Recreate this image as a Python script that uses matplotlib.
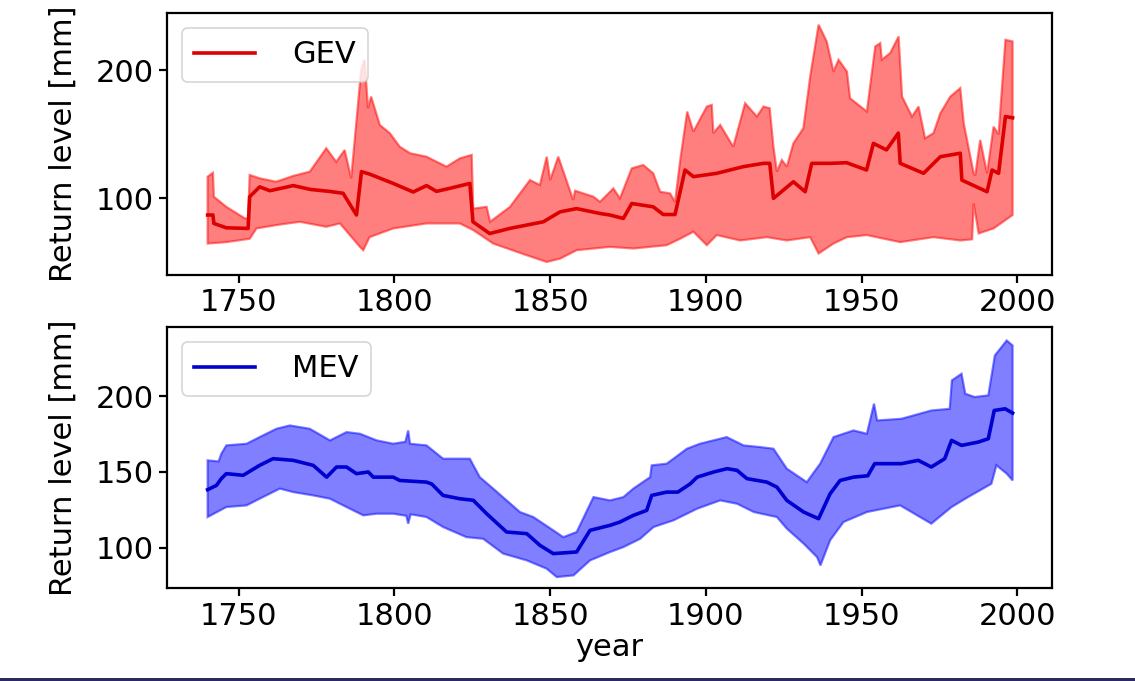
import matplotlib
matplotlib.use("Agg")
import matplotlib.pyplot as plt
import numpy as np
from matplotlib.patches import Rectangle

# ---------------- GEV (top panel) ----------------
gev_mid_years = [1740, 1741.7, 1742, 1746, 1753, 1753.5, 1756.7, 1760, 1767.5, 1773, 1779, 1783.5,
                 1787.8, 1789.4, 1792, 1799.6, 1806, 1810.3, 1813.5, 1818, 1824.2, 1825.2, 1830.6,
                 1837, 1847.8, 1853.2, 1858.5, 1866, 1869.2, 1873.5, 1876.2, 1883.1, 1886.3, 1890.1,
                 1893.3, 1896, 1903.5, 1912, 1918.5, 1920.5, 1921.7, 1928.1, 1931.9, 1934, 1940,
                 1945.2, 1951.6, 1953.8, 1958, 1961.8, 1962.4, 1969.9, 1975.3, 1981.7, 1982.2,
                 1990.3, 1991.9, 1994, 1996.2, 1998.5]
gev_mid = [87, 87, 80.4, 77, 76.5, 101.3, 109, 106, 110, 107, 105.5, 104,
           87, 120.9, 119, 111.7, 105, 110, 105.5, 108, 111.7, 81.7, 72.5,
           76.5, 81.7, 89.5, 92, 88.2, 87, 84.3, 96, 93.4, 87.4, 87.4,
           122.2, 117, 119.6, 124.8, 127.4, 127.4, 100, 113, 105.2, 127.4, 127.4,
           127.9, 122.2, 143, 137.9, 151, 127.4, 119.6, 132.6, 135.3, 114.3,
           105.2, 122.2, 119.6, 164, 163]

gev_up_years = [1740, 1741.7, 1742, 1746, 1752, 1753, 1753.5, 1756.7, 1762, 1767.5, 1772.8, 1778.1,
                1781.3, 1784, 1786.1, 1789.3, 1790.4, 1791.5, 1792.5, 1795.3, 1798.5, 1801.7,
                1805, 1810.3, 1816.7, 1821, 1824.8, 1825.3, 1829.6, 1830.7, 1837.1, 1843.5,
                1846.7, 1848.9, 1850, 1852.6, 1857.4, 1858, 1863.9, 1866, 1870.3, 1872.4,
                1876.2, 1879.9, 1883.1, 1885.3, 1888.5, 1890.1, 1891.7, 1894, 1896, 1900.3,
                1901.9, 1902.4, 1904.6, 1908.8, 1912.6, 1916.4, 1918.5, 1920.5, 1921.7, 1922.8,
                1924.4, 1926, 1928.1, 1931.3, 1933.5, 1936.2, 1938.8, 1941, 1942.6, 1945.3,
                1946.3, 1951.7, 1954.4, 1956, 1956.5, 1959.2, 1961.9, 1963, 1966.2, 1968.3,
                1970.4, 1973.1, 1975.3, 1978.5, 1981.7, 1982.8, 1986, 1986.5, 1988.1, 1990.3,
                1992.4, 1994, 1996.2, 1998.5]
gev_up = [117, 120, 101.3, 93.4, 84.3, 84.3, 118.3, 115.7, 113, 117.6, 120.9, 139.2,
          128.6, 137.8, 115.7, 200.5, 208.4, 170.5, 179.6, 157.4, 151, 140.4,
          135.3, 132.6, 124.8, 131.3, 134, 92, 93.4, 81.7, 93.4, 114.3,
          110.5, 132.6, 114.3, 132.6, 98.7, 106, 101.3, 97.3, 107.8, 100,
          123.5, 126.1, 119.6, 105.2, 103.9, 97.3, 128.7, 167.9, 152.2, 171.8,
          173.1, 151, 157.4, 140.4, 174.4, 164, 171.8, 170.5, 140.4, 120.9,
          130, 124.8, 143, 154.8, 195.3, 235.8, 222.7, 199.2, 208.4, 199.2,
          178.3, 167.9, 218.8, 221.4, 208.4, 213.7, 226.6, 179.6, 164, 171.8,
          147, 151, 166.6, 179.6, 186.2, 158.8, 119.6, 118, 145.7, 119.6,
          156.1, 150, 224, 222.7]

gev_lo_years = [1740, 1746, 1753.5, 1755.7, 1762, 1769.6, 1778.1, 1782.5, 1788.9, 1790, 1792,
                1799.6, 1810.3, 1821, 1825.3, 1831.7, 1842.4, 1848.9, 1853.2, 1858.5, 1869.2,
                1876.7, 1887.4, 1891.7, 1896, 1900.3, 1903.5, 1911, 1919.6, 1926, 1933.5,
                1936.2, 1941, 1945.3, 1951.7, 1962.4, 1973.1, 1981.7, 1985.5, 1986, 1987.6,
                1992.4, 1998.5]
gev_lo = [64.7, 65.8, 68.4, 76.5, 79.1, 81.7, 77.8, 80.4, 62.1, 59.5, 69.7,
          76.5, 80.4, 80.4, 75.2, 64.7, 55.6, 50.3, 52.9, 59.5, 62.1,
          60.8, 63.4, 68.4, 73.9, 63.4, 71.3, 67.1, 69.7, 67.1, 69.7,
          56.9, 64.7, 69.7, 71.3, 65.8, 69.7, 67.1, 68, 96, 72.6,
          76.5, 87]

# ---------------- MEV (bottom panel) ----------------
mev_mid_years = [1740, 1742.8, 1744.4, 1746, 1751.4, 1756.7, 1761, 1767.5, 1773.9, 1778.2, 1781.4,
                 1784.6, 1787.8, 1791.6, 1793.2, 1799.6, 1801.7, 1810.3, 1812, 1815.6, 1821,
                 1825.3, 1829.6, 1836, 1842.5, 1846.7, 1851, 1858.5, 1862.8, 1869.2, 1872.4,
                 1876.7, 1881, 1882.6, 1887.4, 1891, 1895, 1897.2, 1902.5, 1906.8, 1910, 1913.2,
                 1919.6, 1922.8, 1926, 1931.4, 1936.2, 1939.9, 1943.1, 1947.4, 1952, 1954.2,
                 1962.8, 1968.2, 1972.4, 1976.7, 1978.9, 1982.1, 1987.5, 1990.7, 1992.6, 1996.1,
                 1998.5]
mev_mid = [138.3, 141.1, 145.6, 148.9, 147.8, 154.4, 158.8, 157.7, 154.4, 146.6, 153.3,
           153.3, 148.9, 150, 146.6, 146.6, 144.4, 143.3, 142, 134.5, 132.3,
           131.3, 122.4, 110.3, 109.2, 101.5, 96, 97.1, 111.4, 114.7, 116.9,
           121.3, 124.6, 134.5, 136.7, 136.7, 142.2, 146.6, 150, 152.2, 151.1, 145.6,
           143.3, 140, 131.2, 123.5, 119.1, 135.6, 144.4, 146.6, 147.5, 155.5,
           155.5, 157.7, 153.3, 158.8, 170.9, 167.6, 169.8, 172, 190.7, 191.8,
           189]

mev_up_years = [1740, 1743.5, 1744.4, 1746, 1752.5, 1756.7, 1762.1, 1766.4, 1772.8, 1779.3, 1784.6,
                1788.9, 1794.3, 1799.6, 1803.5, 1804.4, 1805, 1810.3, 1815.6, 1824.2, 1827.4,
                1831.7, 1840.3, 1844.6, 1851, 1854.2, 1858.5, 1863.9, 1869.2, 1873.5, 1876.7,
                1882.1, 1882.6, 1887.4, 1889.6, 1893.9, 1898.1, 1906.7, 1912.1, 1917.4, 1921.7,
                1926, 1932.4, 1936.7, 1941, 1947.4, 1951.7, 1954, 1955, 1962.8, 1972.4, 1978.3,
                1979, 1982.1, 1983.3, 1986.3, 1990.7, 1992.8, 1996.6, 1998.5]
mev_up = [157.7, 157, 162.1, 167.6, 168.7, 173.1, 178.6, 180.8, 178.6, 170.9, 176.4,
          175.3, 170.9, 168.7, 170, 177.5, 168.7, 167.6, 158.8, 158.8, 146.6,
          139, 123.5, 120.2, 111.4, 106.9, 110.3, 133.4, 131.2, 133.4, 139,
          146.6, 154.4, 155.5, 158.8, 165.4, 168.7, 173.1, 167.6, 166.5, 165.4,
          152.2, 143.3, 155.5, 173.1, 177.5, 175.3, 195.2, 184.1, 185.2, 190.7, 191.8,
          210.6, 215, 201.8, 199.6, 200.7, 227.1, 237, 233.7]

mev_lo_years = [1740, 1746, 1752.5, 1756.7, 1763.2, 1767.5, 1773.9, 1779.3, 1784.6, 1790, 1794.3,
                1799.6, 1803.8, 1804.4, 1805.2, 1810.3, 1815.6, 1823.1, 1828.5, 1834.9, 1842.5,
                1848.9, 1852.1, 1857.5, 1862.8, 1869.2, 1873.5, 1878.9, 1883.2, 1889.6, 1897.2,
                1904.6, 1910, 1915.4, 1922.8, 1926, 1931.4, 1935.7, 1936.8, 1939.9, 1944.2,
                1951.7, 1962.4, 1972.4, 1978.9, 1984.2, 1991.7, 1993.3, 1996.6, 1998.5]
mev_lo = [120.2, 126.8, 127.9, 132.3, 139, 136.7, 134.5, 132.3, 126.8, 121.3, 122.4,
          122.4, 121, 115.8, 122, 120.2, 113.6, 106.9, 105.8, 96, 91.5,
          86, 80.5, 81.6, 91.5, 97, 100.3, 105.8, 113.6, 118, 125.7,
          131.2, 129, 123.5, 120.2, 112.5, 102.6, 93.7, 88.2, 104.8, 116.9,
          123.5, 127.9, 115.8, 126.8, 133.4, 142.2, 154.4, 148.9, 144.4]

x_ticks = [1750, 1800, 1850, 1900, 1950, 2000]
gev_yticks = [100, 200]
mev_yticks = [100, 150, 200]

FS = 22
fig = plt.figure(figsize=(11.35, 6.81), dpi=100)
ax1 = fig.add_axes([0.147, 0.596, 0.780, 0.385])
ax2 = fig.add_axes([0.147, 0.136, 0.780, 0.384])


def panel(ax, my, m, uy, u, ly, l, col_line, col_fill, label, yt, ylim):
    px = np.concatenate([uy, ly[::-1]])
    py = np.concatenate([u, l[::-1]])
    ax.fill(px, py, facecolor=col_fill, edgecolor=col_fill, alpha=0.5, lw=1.6)
    ax.plot(my, m, color=col_line, lw=2.6, label=label)
    ax.set_xlim(1726.9, 2011.2)
    ax.set_ylim(*ylim)
    ax.set_xticks(x_ticks)
    ax.set_yticks(yt)
    ax.tick_params(labelsize=FS, length=6, width=1.6)
    for s in ax.spines.values():
        s.set_linewidth(1.6)
    ax.set_ylabel("Return level [mm]", fontsize=FS, labelpad=13)
    leg = ax.legend(loc="upper left", fontsize=FS, handlelength=2.0, borderpad=0.4,
                    handletextpad=1.2, framealpha=0.8)
    leg.get_frame().set_linewidth(1.2)


panel(ax1, gev_mid_years, gev_mid, gev_up_years, gev_up, gev_lo_years, gev_lo,
      "#dd0000", "#ff0000", "GEV", gev_yticks, (40, 245))
panel(ax2, mev_mid_years, mev_mid, mev_up_years, mev_up, mev_lo_years, mev_lo,
      "#0000d0", "#0000ff", "MEV", mev_yticks, (73, 246))
ax2.set_xlabel("year", fontsize=FS, labelpad=2)
fig.align_ylabels([ax1, ax2])

fig.patches.append(Rectangle((0, 0), 1, 3 / 681, transform=fig.transFigure,
                             facecolor="#2a2a5c", edgecolor="none", zorder=10))

fig.savefig("out.png", dpi=100)
